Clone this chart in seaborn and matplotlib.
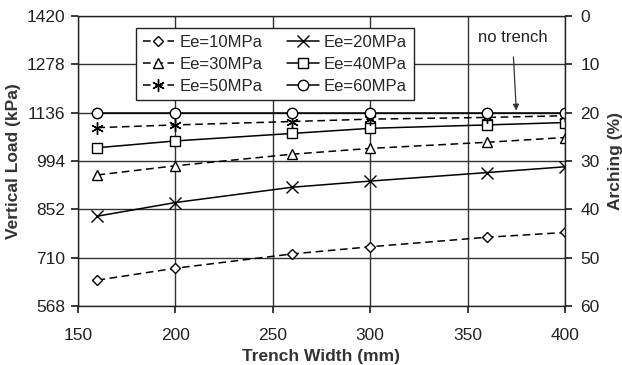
import matplotlib
matplotlib.use("Agg")
import matplotlib.pyplot as plt
import seaborn as sns
import pandas as pd

widths = [160, 200, 260, 300, 360, 400]
ee10 = [644, 679, 721, 742, 770, 784]
ee20 = [832, 872, 917, 935, 960, 977]
ee30 = [953, 980, 1014, 1031, 1049, 1063]
ee40 = [1033, 1053, 1075, 1090, 1100, 1107]
ee50 = [1092, 1100, 1110, 1117, 1122, 1127]
ee60 = [1136, 1136, 1136, 1136, 1136, 1136]
labels = ["Ee=10MPa", "Ee=20MPa", "Ee=30MPa", "Ee=40MPa", "Ee=50MPa", "Ee=60MPa"]
load_ticks = [568, 710, 852, 994, 1136, 1278, 1420]
arch_ticks = [0, 10, 20, 30, 40, 50, 60]
x_ticks = [150, 200, 250, 300, 350, 400]

sns.set_theme(style="ticks")
plt.rcParams["font.family"] = ["Liberation Sans", "DejaVu Sans"]

fig = plt.figure(figsize=(6.22, 3.65), dpi=100)
ax = fig.add_axes([78/622, 1-306/365, (565-78)/622, (306-16)/365])

series = [ee10, ee20, ee30, ee40, ee50, ee60]
markers = ["D", "x", "^", "s", (6, 2, 0), "o"]
msizes = [5.5, 8, 7, 7, 9, 7.5]
styles = ["--", "-", "--", "-", "--", "-"]
lines = []
for vals, lab, m, ms, ls in zip(series, labels, markers, msizes, styles):
    df = pd.DataFrame({"w": widths, "v": vals})
    sns.lineplot(data=df, x="w", y="v", ax=ax, color="black", marker=m,
                 markersize=ms, markerfacecolor="white", markeredgecolor="black",
                 markeredgewidth=1.0, linewidth=1.1, linestyle=ls, label=lab,
                 legend=False)
    ln = ax.lines[-1]
    if ls == "--":
        ln.set_dashes((5, 3))
    lines.append(ln)

ax.set_xlim(150, 400)
ax.set_ylim(568, 1420)
ax.set_xticks(x_ticks)
ax.set_yticks(load_ticks)
ax.grid(True, color="#333333", linewidth=1.0)
ax.set_axisbelow(True)
for s in ax.spines.values():
    s.set_color("#222222")
    s.set_linewidth(1.0)
ax.tick_params(axis="both", direction="out", length=5, labelsize=12.5, colors="#222222")
ax.tick_params(axis="x", pad=11)
ax.tick_params(axis="y", pad=4)
ax.set_xlabel("Trench Width (mm)", fontsize=12.5, fontweight="bold", color="#333333", labelpad=4)
ax.set_ylabel("Vertical Load (kPa)", fontsize=12.5, fontweight="bold", color="#333333", labelpad=4)

ax2 = ax.twinx()
ax2.set_ylim(60, 0)
ax2.set_yticks(arch_ticks)
ax2.tick_params(axis="y", direction="out", length=5, labelsize=12.5, colors="#222222", pad=6)
ax2.set_ylabel("Arching (%)", fontsize=12.5, fontweight="bold", color="#333333", labelpad=6)
for s in ax2.spines.values():
    s.set_visible(False)

order = [0, 2, 4, 1, 3, 5]
leg = ax.legend([lines[i] for i in order], [labels[i] for i in order], ncol=2,
                loc="upper left", bbox_to_anchor=(0.119, 0.959), borderaxespad=0,
                frameon=True, fancybox=False, edgecolor="#222222", framealpha=1,
                fontsize=12, handlelength=1.9, handletextpad=0.3, columnspacing=1.5,
                labelspacing=0.42, borderpad=0.4)
leg.get_frame().set_linewidth(1.0)

ax.annotate("no trench", xy=(375, 1142), xytext=(373, 1356),
            fontsize=12, ha="center", va="center", color="#222222",
            arrowprops=dict(arrowstyle="-|>", color="#333333", lw=0.9,
                            shrinkA=6, shrinkB=0, mutation_scale=9))

fig.savefig("out.png", dpi=100)
